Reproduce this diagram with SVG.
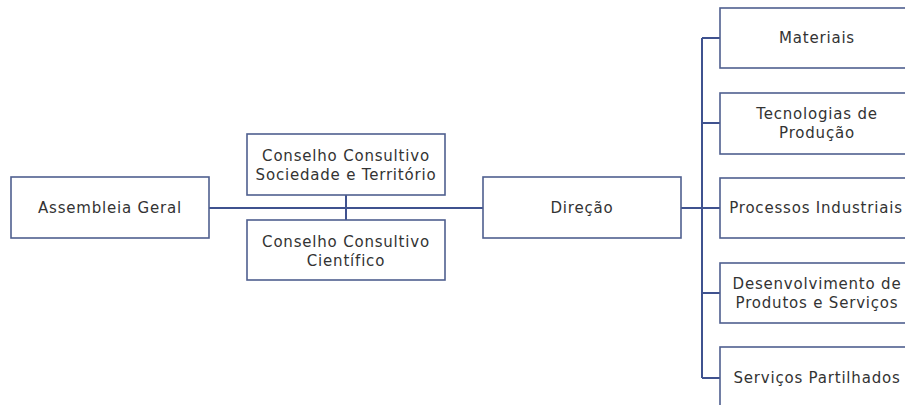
<svg xmlns="http://www.w3.org/2000/svg" width="905" height="405" viewBox="0 0 905 405">
<style>
.box{fill:#ffffff;stroke:#4f5f8f;stroke-width:1.6}
.t{font-family:"DejaVu Sans","Liberation Sans",sans-serif;font-size:15px;letter-spacing:0.8px;fill:#333333;text-anchor:middle}
.c{fill:none;stroke:#3f528f;stroke-width:2}
</style>
<rect width="905" height="405" fill="#ffffff"/>
<g id="connectors">
<path class="c" d="M209 208 H483"/>
<path class="c" d="M346 195 V220"/>
<path class="c" d="M681 208 H720"/>
<path class="c" d="M702 38 V378"/>
<path class="c" d="M702 38 H720 M702 123 H720 M702 293 H720 M702 378 H720"/>
</g>
<g id="assembleia">
<rect class="box" x="11" y="177" width="198" height="61"/>
<text class="t" x="110" y="213">Assembleia Geral</text>
</g>
<g id="conselho-sociedade">
<rect class="box" x="247" y="134" width="198" height="61"/>
<text class="t" x="346" y="161">Conselho Consultivo</text>
<text class="t" x="346" y="180">Sociedade e Território</text>
</g>
<g id="conselho-cientifico">
<rect class="box" x="247" y="220" width="198" height="60"/>
<text class="t" x="346" y="247">Conselho Consultivo</text>
<text class="t" x="346" y="266">Científico</text>
</g>
<g id="direcao">
<rect class="box" x="483" y="177" width="198" height="61"/>
<text class="t" x="582" y="213">Direção</text>
</g>
<g id="materiais">
<rect class="box" x="720" y="8" width="198" height="60"/>
<text class="t" x="817" y="43">Materiais</text>
</g>
<g id="tecnologias">
<rect class="box" x="720" y="93" width="198" height="61"/>
<text class="t" x="817" y="119">Tecnologias de</text>
<text class="t" x="817" y="138">Produção</text>
</g>
<g id="processos">
<rect class="box" x="720" y="178" width="198" height="60"/>
<text class="t" x="816" y="213">Processos Industriais</text>
</g>
<g id="desenvolvimento">
<rect class="box" x="720" y="263" width="198" height="60"/>
<text class="t" x="817" y="289">Desenvolvimento de</text>
<text class="t" x="817" y="308">Produtos e Serviços</text>
</g>
<g id="servicos">
<rect class="box" x="720" y="347" width="198" height="61"/>
<text class="t" x="817" y="383">Serviços Partilhados</text>
</g>
</svg>
